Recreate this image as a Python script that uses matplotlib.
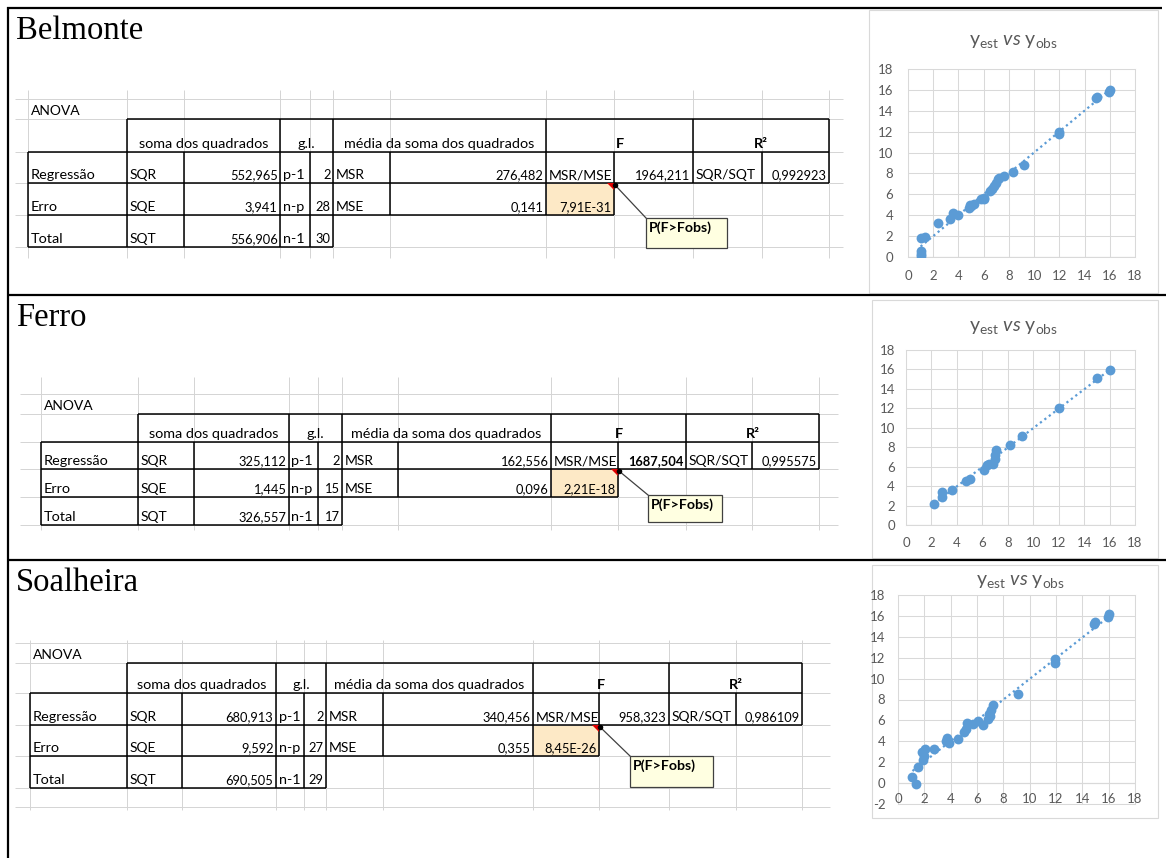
import numpy as np
import matplotlib
matplotlib.use("Agg")
import matplotlib.pyplot as plt
from matplotlib.patches import Rectangle, Polygon

plt.rcParams['font.family'] = ['Lato', 'DejaVu Sans']
plt.rcParams['mathtext.fontset'] = 'custom'
plt.rcParams['mathtext.rm'] = 'Lato'
plt.rcParams['mathtext.it'] = 'Lato:italic'
plt.rcParams['axes.unicode_minus'] = False

W, H = 1166, 858

########################## Data #########################

sites = ["Belmonte", "Ferro", "Soalheira"]

sq_reg = ["552,965", "325,112", "680,913"]
sq_err = ["3,941", "1,445", "9,592"]
sq_tot = ["556,906", "326,557", "690,505"]
gl_reg = ["2", "2", "2"]
gl_err = ["28", "15", "27"]
gl_tot = ["30", "17", "29"]
ms_reg = ["276,482", "162,556", "340,456"]
ms_err = ["0,141", "0,096", "0,355"]
f_obs = ["1964,211", "1687,504", "958,323"]
f_bold = [False, True, False]
p_val = ["7,91E-31", "2,21E-18", "8,45E-26"]
r2 = ["0,992923", "0,995575", "0,986109"]

obs_belmonte = [1.0, 1.0, 1.02, 1.05, 1.35, 2.4, 3.3, 3.6, 4.0, 4.8, 4.9, 5.0, 5.2,
                5.8, 6.0, 6.05, 6.5, 6.65, 6.8, 6.95, 7.1, 7.25, 7.65, 8.3, 9.2,
                11.95, 12.0, 14.9, 15.0, 15.95, 16.0]
est_belmonte = [0.05, 0.3, 0.6, 1.8, 1.95, 3.3, 3.6, 4.25, 4.05, 4.7, 4.95, 4.9, 5.05,
                5.6, 5.65, 5.55, 6.35, 6.55, 6.8, 7.1, 7.45, 7.55, 7.75, 8.1, 8.85,
                11.75, 12.0, 15.2, 15.3, 15.8, 16.0]

obs_ferro = [2.2, 2.8, 2.85, 3.65, 4.75, 5.0, 6.1, 6.4, 6.5, 6.8, 7.0, 7.0, 7.1,
             8.2, 9.15, 12.0, 15.0, 16.0]
est_ferro = [2.2, 3.4, 2.9, 3.6, 4.55, 4.7, 5.7, 6.15, 6.25, 6.3, 6.8, 7.25, 7.75,
             8.2, 9.2, 12.0, 15.1, 15.9]

obs_soalheira = [1.1, 1.35, 1.55, 1.85, 2.05, 1.9, 1.95, 2.7, 3.65, 3.75, 3.9, 4.55,
                 5.0, 5.15, 5.25, 5.7, 6.1, 6.45, 6.85, 6.9, 7.0, 7.05, 7.25, 9.1,
                 11.95, 11.95, 14.9, 14.95, 15.95, 16.0]
est_soalheira = [0.55, -0.05, 1.5, 3.0, 3.25, 2.2, 2.6, 3.3, 4.05, 4.35, 3.85, 4.25,
                 4.85, 5.15, 5.75, 5.65, 5.9, 5.55, 6.15, 6.6, 6.4, 7.0, 7.45, 8.55,
                 11.45, 11.9, 15.2, 15.45, 15.9, 16.2]

obs_all = [obs_belmonte, obs_ferro, obs_soalheira]
est_all = [est_belmonte, est_ferro, est_soalheira]

########################## Layout (pixels) #########################

# table columns: left edge, SQ label, SQ value, gl label, gl value, MS label,
# MS value, F label, F value, R2 label, R2 value, right edge
tab_cols = [[28, 127, 184, 280, 310, 333, 390, 546, 614, 693, 762, 829],
            [41, 138, 194, 289, 318, 342, 398, 551, 618, 686, 752, 819],
            [30, 127, 182, 276, 304, 326, 383, 533, 599, 669, 736, 802]]
tab_rows = [[99, 119, 152, 183, 215, 247],
            [394, 414, 442, 469, 497, 525],
            [643, 663, 693, 725, 756, 788]]
tab_extra_rows = [[], [], [807]]
grid_x = [(15, 843), (20, 838), (15, 830)]
grid_y = [(90, 258), (377, 530), (640, 810)]
comment_box = [(646, 218, 727, 248), (648, 495, 722, 522), (630, 756, 713, 787)]
title_base = [39, 326, 591]

chart_box = [(869, 10, 1158, 293), (872, 300, 1158, 558), (872, 565, 1158, 818)]
chart_area = [(908, 69, 1135, 257), (906, 350, 1135, 525), (898, 595, 1135, 804)]
chart_title_xy = [(1013, 42), (1013, 327), (1020, 582)]
chart_ymin = [0, 0, -2]
chart_xpad = [9.0, 8.3, -8.0]
chart_ypad = [10.5, 8.0, 9.0]

GRID = '#d4d4d4'
FS = 10.4      # words
FS_CODE = 10.0  # upper-case codes
FS_NUM = 9.3   # numbers

fig = plt.figure(figsize=(W / 100, H / 100), dpi=100)
ax = fig.add_axes([0, 0, 1, 1])
ax.set_xlim(0, W)
ax.set_ylim(H, 0)
ax.axis('off')


def hline(y, x0, x1, color='black', lw=1.1):
    ax.plot([x0, x1], [y, y], color=color, lw=lw, solid_capstyle='butt')


def vline(x, y0, y1, color='black', lw=1.1):
    ax.plot([x, x], [y0, y1], color=color, lw=lw, solid_capstyle='butt')


def draw_table(i):
    c = tab_cols[i]
    r = tab_rows[i]
    # excel gridlines
    for x in c:
        vline(x, grid_y[i][0], grid_y[i][1], GRID, 0.7)
    for y in r + tab_extra_rows[i]:
        hline(y, grid_x[i][0], grid_x[i][1], GRID, 0.7)
    # p-value cell fill
    ax.add_patch(Rectangle((c[7], r[3]), c[8] - c[7], r[4] - r[3],
                           facecolor='#fde9c6', edgecolor='none'))
    # borders
    hline(r[1], c[1], c[11])
    hline(r[2], c[0], c[11])
    hline(r[3], c[0], c[11])
    hline(r[4], c[0], c[8])
    hline(r[5], c[0], c[5])
    vline(c[0], r[2], r[5])
    vline(c[1], r[1], r[5])
    vline(c[2], r[2], r[5])
    vline(c[3], r[1], r[5])
    vline(c[4], r[2], r[5])
    vline(c[5], r[1], r[5])
    vline(c[6], r[2], r[4])
    vline(c[7], r[1], r[4])
    vline(c[8], r[2], r[4])
    vline(c[9], r[1], r[3])
    vline(c[10], r[2], r[3])
    vline(c[11], r[1], r[3])

    def left(col, row, s, fs=FS, **kw):
        ax.text(c[col] + 2.5, r[row] - 4, s, ha='left', va='baseline', fontsize=fs, **kw)

    def right(col, row, s, fs=FS_NUM, **kw):
        ax.text(c[col] - 2.5, r[row] - 4, s, ha='right', va='baseline', fontsize=fs, **kw)

    def center(c0, c1, row, s, **kw):
        ax.text((c[c0] + c[c1]) / 2, r[row] - 4, s, ha='center', va='baseline',
                fontsize=FS, **kw)

    left(0, 1, "ANOVA", FS_CODE)
    center(1, 3, 2, "soma dos quadrados")
    center(3, 5, 2, "g.l.")
    center(5, 7, 2, "média da soma dos quadrados")
    center(7, 9, 2, "F", fontweight='bold')
    center(9, 11, 2, "R²", fontweight='bold')

    left(0, 3, "Regressão"); left(1, 3, "SQR", FS_CODE); right(3, 3, sq_reg[i])
    left(3, 3, "p-1"); right(5, 3, gl_reg[i]); left(5, 3, "MSR", FS_CODE)
    right(7, 3, ms_reg[i])
    left(7, 3, "MSR/MSE", FS_CODE)
    right(9, 3, f_obs[i], fontweight='bold' if f_bold[i] else 'normal')
    left(9, 3, "SQR/SQT", FS_CODE); right(11, 3, r2[i])

    left(0, 4, "Erro"); left(1, 4, "SQE", FS_CODE); right(3, 4, sq_err[i])
    left(3, 4, "n-p"); right(5, 4, gl_err[i]); left(5, 4, "MSE", FS_CODE)
    right(7, 4, ms_err[i])
    right(8, 4, p_val[i])

    left(0, 5, "Total"); left(1, 5, "SQT", FS_CODE); right(3, 5, sq_tot[i])
    left(3, 5, "n-1"); right(5, 5, gl_tot[i])

    # comment indicator and note
    ax.add_patch(Polygon([(c[8] - 7, r[3]), (c[8], r[3]), (c[8], r[3] + 7)],
                         closed=True, facecolor='#e00000', edgecolor='none', zorder=4))
    bx0, by0, bx1, by1 = comment_box[i]
    ax.plot([c[8] + 1, bx0], [r[3] + 2, by0], color='#404040', lw=0.9, zorder=4)
    ax.plot([c[8] + 1], [r[3] + 2], marker='o', ms=3, color='black', zorder=5)
    ax.add_patch(Rectangle((bx0, by0), bx1 - bx0, by1 - by0, facecolor='#ffffe1',
                           edgecolor='#404040', lw=0.9, zorder=4))
    ax.text(bx0 + 3, by0 + 3, "P(F>Fobs)", ha='left', va='top', fontsize=10.2,
            fontweight='bold', zorder=5)


def draw_chart(i):
    bx0, by0, bx1, by1 = chart_box[i]
    ax.add_patch(Rectangle((bx0, by0), bx1 - bx0, by1 - by0, fill=False,
                           edgecolor='#d9d9d9', lw=0.8))
    tx, ty = chart_title_xy[i]
    ax.text(tx, ty, r"$\mathrm{y}_{\mathrm{est}}$ $\mathit{vs}$ $\mathrm{y}_{\mathrm{obs}}$",
            ha='center', va='center', fontsize=14, color='#595959')
    x0, y0, x1, y1 = chart_area[i]
    ca = fig.add_axes([x0 / W, 1 - y1 / H, (x1 - x0) / W, (y1 - y0) / H])
    obs = np.array(obs_all[i])
    est = np.array(est_all[i])
    ca.scatter(obs, est, s=50, color='#5b9bd5', linewidths=0, zorder=3)
    k = np.polyfit(obs, est, 1)
    xs = np.array([obs.min(), obs.max()])
    ca.plot(xs, np.polyval(k, xs), ls=(0, (1, 1.5)), color='#5b9bd5', lw=1.6, zorder=2)
    ca.set_xlim(0, 18)
    ca.set_ylim(chart_ymin[i], 18)
    ca.set_xticks(range(0, 19, 2))
    ca.set_yticks(range(chart_ymin[i], 19, 2))
    ca.grid(color='#d9d9d9', lw=0.75)
    ca.axhline(0, color='#c4c4c4', lw=0.8, zorder=0.45)
    ca.set_axisbelow(True)
    for s in ca.spines.values():
        s.set_color('#d9d9d9')
        s.set_linewidth(0.75)
        s.set_zorder(0.4)
    ca.tick_params(length=0, labelsize=9.5, colors='#595959')
    ca.tick_params(axis='x', pad=chart_xpad[i])
    ca.tick_params(axis='y', pad=chart_ypad[i])
    ca.patch.set_alpha(0)


# outer frame
hline(8, 7, 1162, lw=1.6)
hline(295, 7, 1166, lw=1.6)
hline(560, 7, 1166, lw=1.6)
vline(8, 7, 858, lw=1.6)

for i in range(3):
    ax.text(16, title_base[i], sites[i], family='Liberation Serif', fontsize=23.5,
            ha='left', va='baseline')
    draw_table(i)
    draw_chart(i)

plt.savefig('out.png', dpi=100)
